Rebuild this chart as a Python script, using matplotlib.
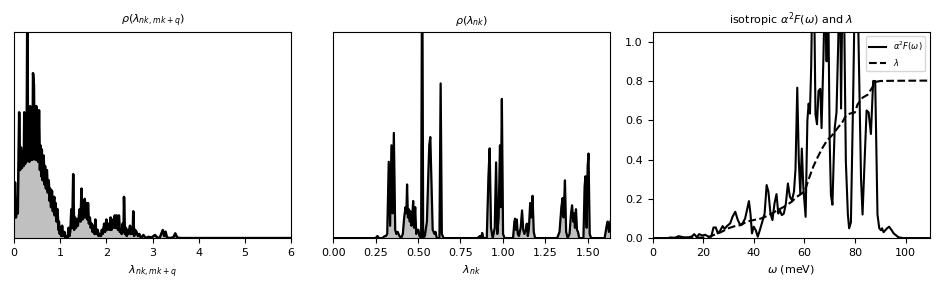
import matplotlib
matplotlib.use("Agg")
import matplotlib.pyplot as plt

# rho(lambda_{nk,mk+q}) -- anisotropic coupling distribution
lam_q = [0.00, 0.02, 0.04, 0.06, 0.08, 0.11, 0.13, 0.15, 0.17, 0.19, 0.21, 0.22, 0.24, 0.26, 0.27,
         0.29, 0.30, 0.32, 0.33, 0.35, 0.37, 0.39, 0.40, 0.41, 0.43, 0.44, 0.45, 0.46, 0.48, 0.50,
         0.51, 0.52, 0.54, 0.56, 0.57, 0.59, 0.60, 0.62, 0.64, 0.66, 0.67, 0.69, 0.71, 0.73, 0.75,
         0.77, 0.78, 0.80, 0.82, 0.84, 0.87, 0.88, 0.90, 0.92, 0.94, 0.96, 0.97, 0.99, 1.00, 1.02,
         1.04, 1.06, 1.09, 1.11, 1.13, 1.16, 1.18, 1.20, 1.22, 1.24, 1.26, 1.28, 1.30, 1.32, 1.34,
         1.36, 1.38, 1.40, 1.42, 1.44, 1.46, 1.48, 1.50, 1.52, 1.53, 1.55, 1.57, 1.59, 1.60, 1.62,
         1.64, 1.66, 1.68, 1.70, 1.72, 1.74, 1.76, 1.78, 1.81, 1.83, 1.85, 1.88, 1.90, 1.92, 1.95,
         1.97, 2.00, 2.02, 2.05, 2.07, 2.09, 2.11, 2.14, 2.16, 2.18, 2.20, 2.22, 2.25, 2.27, 2.29,
         2.31, 2.33, 2.35, 2.37, 2.38, 2.40, 2.42, 2.44, 2.46, 2.48, 2.51, 2.53, 2.55, 2.57, 2.58,
         2.60, 2.62, 2.65, 2.68, 2.71, 2.75, 2.80, 2.85, 2.91, 2.98, 3.05, 3.10, 3.15, 3.19, 3.22,
         3.25, 3.28, 3.31, 3.38, 3.45, 3.49, 3.53, 3.60, 6.00]
rho_q = [0.10, 0.27, 0.10, 0.16, 0.12, 0.61, 0.33, 0.44, 0.34, 0.42, 0.35, 0.61, 0.36, 0.48, 0.37,
         1.30, 0.38, 0.41, 0.37, 0.64, 0.38, 0.55, 0.38, 0.80, 0.74, 0.39, 0.48, 0.38, 0.64, 0.38,
         0.48, 0.37, 0.62, 0.33, 0.45, 0.30, 0.43, 0.28, 0.40, 0.26, 0.35, 0.24, 0.33, 0.22, 0.28,
         0.18, 0.24, 0.15, 0.23, 0.13, 0.20, 0.11, 0.17, 0.08, 0.14, 0.04, 0.08, 0.02, 0.05, 0.01,
         0.06, 0.01, 0.03, 0.00, 0.01, 0.00, 0.05, 0.01, 0.04, 0.14, 0.05, 0.31, 0.04, 0.10, 0.05,
         0.09, 0.06, 0.10, 0.14, 0.08, 0.24, 0.09, 0.15, 0.10, 0.19, 0.10, 0.17, 0.09, 0.17, 0.07,
         0.10, 0.05, 0.07, 0.03, 0.06, 0.02, 0.09, 0.02, 0.04, 0.01, 0.02, 0.01, 0.04, 0.02, 0.07,
         0.03, 0.09, 0.04, 0.07, 0.04, 0.10, 0.04, 0.09, 0.05, 0.11, 0.05, 0.11, 0.04, 0.11, 0.03,
         0.04, 0.02, 0.07, 0.03, 0.20, 0.02, 0.05, 0.01, 0.04, 0.02, 0.06, 0.02, 0.05, 0.02, 0.13,
         0.01, 0.04, 0.03, 0.01, 0.02, 0.00, 0.015, 0.00, 0.006, 0.003, 0.015, 0.003, 0.00, 0.023, 0.039,
         0.01, 0.031, 0.003, 0.00, 0.004, 0.023, 0.003, 0.00, 0.00]

# rho(lambda_nk)
lam_k = [0.000, 0.250, 0.260, 0.270, 0.290, 0.300, 0.310,
         0.318, 0.327, 0.335, 0.343, 0.350, 0.357, 0.365, 0.372, 0.380, 0.390, 0.400, 0.410,
         0.418, 0.426, 0.431, 0.435, 0.440, 0.446, 0.451, 0.455, 0.461, 0.466, 0.471, 0.476,
         0.483, 0.489, 0.495, 0.502, 0.508,
         0.518, 0.524, 0.530,
         0.540, 0.552, 0.560, 0.566, 0.572, 0.578, 0.586, 0.597, 0.603, 0.610,
         0.626, 0.633, 0.640, 0.650,
         0.850, 0.865, 0.872, 0.878, 0.885, 0.905,
         0.915, 0.922, 0.930, 0.940, 0.952, 0.960, 0.967, 0.975, 0.983, 0.988, 0.994, 1.001, 1.010,
         1.060, 1.068, 1.072, 1.077, 1.082, 1.088, 1.095, 1.105, 1.113, 1.120, 1.127, 1.135,
         1.141, 1.147, 1.153, 1.161, 1.167, 1.175, 1.182, 1.190,
         1.320, 1.334, 1.345, 1.352, 1.358, 1.366, 1.373, 1.382, 1.393, 1.402, 1.408, 1.415,
         1.420, 1.425, 1.431, 1.437, 1.443, 1.450,
         1.475, 1.482, 1.487, 1.494, 1.500, 1.505, 1.512, 1.520,
         1.600, 1.612, 1.618, 1.625, 1.634]
rho_k = [0.0, 0.0, 0.01, 0.0, 0.0, 0.008, 0.01,
         0.02, 0.37, 0.06, 0.45, 0.12, 0.51, 0.04, 0.02, 0.03, 0.01, 0.0, 0.02,
         0.10, 0.15, 0.12, 0.26, 0.10, 0.14, 0.08, 0.13, 0.06, 0.11, 0.18, 0.05,
         0.15, 0.02, 0.04, 0.04, 0.01,
         0.0, 1.5, 0.0,
         0.01, 0.08, 0.30, 0.45, 0.49, 0.30, 0.04, 0.02, 0.03, 0.0,
         0.0, 0.75, 0.02, 0.0,
         0.0, 0.01, 0.0, 0.025, 0.0, 0.0,
         0.30, 0.435, 0.05, 0.0, 0.05, 0.367, 0.02, 0.10, 0.45, 0.15, 0.675, 0.02, 0.0,
         0.0, 0.08, 0.094, 0.04, 0.09, 0.02, 0.01, 0.05, 0.134, 0.04, 0.02, 0.04,
         0.07, 0.01, 0.04, 0.17, 0.10, 0.205, 0.03, 0.0,
         0.0, 0.03, 0.15, 0.194, 0.10, 0.28, 0.03, 0.0, 0.02, 0.12, 0.159, 0.08,
         0.12, 0.05, 0.14, 0.04, 0.03, 0.0,
         0.0, 0.25, 0.30, 0.05, 0.35, 0.41, 0.02, 0.0,
         0.0, 0.06, 0.08, 0.03, 0.08]

# isotropic Eliashberg function and cumulative lambda
omega = [0, 6, 7, 9, 10.3, 12.3, 14.2, 15.5, 16.5, 17.5, 18.4, 19.8, 20.8, 22.1, 23.2, 24.1, 25,
         25.8, 26.7, 27.7, 28.5, 29.4, 30.7, 31.6, 32.7, 33.7, 34.7, 35.6, 36.6, 38.1, 38.7, 39.3,
         40, 40.8, 41.6, 42.4, 43.2, 44.3, 45.1, 45.8, 46.6, 47.4, 48.2, 49, 49.7, 50.3, 51.1,
         51.9, 52.7, 53.5, 54.3, 55.1, 55.9, 56.5, 57.2, 57.8, 58.4, 59.0, 59.6, 60.5, 61.2,
         61.7, 62.2, 62.7, 63.3, 63.9, 64.4, 65.0, 65.6, 66.3, 66.8, 67.5, 68.2, 68.8, 69.3,
         70.0, 70.5, 71.1, 71.6, 72.0, 72.7, 73.4, 74.0, 74.5, 75.0, 75.6, 76.4, 77.2, 77.7,
         78.4, 79.3, 80.1, 81.0, 82.4, 83.0, 83.8, 84.6, 85.4, 86.3, 87.2, 88.0, 88.9, 89.6,
         90.3, 90.7, 91.3, 92.7, 93.5, 94.5, 95.3, 97.2, 99, 109.5]
a2f = [0, 0, 0.003, 0.002, 0.01, 0.004, 0.004, 0.008, 0.02, 0.004, 0.02, 0.013, 0.017, 0.007,
       0.007, 0.054, 0.054, 0.024, 0.037, 0.061, 0.047, 0.061, 0.075, 0.108, 0.134, 0.092, 0.066,
       0.075, 0.1, 0.188, 0.125, 0.024, 0.058, 0.04, 0.007, 0.04, 0.075, 0.125, 0.27, 0.236,
       0.125, 0.092, 0.176, 0.224, 0.125, 0.142, 0.117, 0.125, 0.176, 0.278, 0.21, 0.193, 0.236,
       0.35, 0.766, 0.40, 0.227, 0.456, 0.26, 0.108, 0.60, 0.685, 0.634, 0.87, 1.4, 1.2, 0.63,
       0.58, 0.75, 0.76, 0.56, 0.9, 1.3, 0.9, 1.4, 0.5, 0.22, 0.17, 0.40, 0.56, 0.64, 1.0, 1.5,
       0.66, 1.2, 1.3, 0.39, 0.12, 0.05, 0.08, 0.73, 1.4, 1.3, 0.3, 0.12, 0.39, 0.65, 0.64, 0.53,
       0.80, 0.80, 0.12, 0.05, 0.04, 0.05, 0.03, 0.05, 0.058, 0.04, 0.024, 0.004, 0, 0]

omega_lam = [0, 15, 20, 22.5, 25, 27, 30, 33, 35, 37, 40, 43, 46, 49, 52, 55, 57, 59, 60.5, 62,
             63.5, 65, 67, 69, 71, 73, 75, 76.5, 78, 80, 81, 83, 85, 87, 88, 90, 95, 109.5]
lam_cum = [0, 0, 0.003, 0.007, 0.02, 0.03, 0.05, 0.063, 0.066, 0.083, 0.092, 0.1, 0.117, 0.139,
           0.16, 0.185, 0.21, 0.227, 0.253, 0.31, 0.363, 0.405, 0.456, 0.498, 0.524, 0.558, 0.59,
           0.625, 0.634, 0.64, 0.68, 0.715, 0.73, 0.77, 0.795, 0.80, 0.801, 0.802]

plt.rcParams['font.size'] = 8

fig, axs = plt.subplots(1, 3, figsize=(9.39, 2.9))
fig.subplots_adjust(left=0.015, right=0.99, bottom=0.179, top=0.89, wspace=0.152)

ax = axs[0]
ax.fill_between(lam_q, rho_q, color='silver')
ax.plot(lam_q, rho_q, color='k', lw=1.8)
ax.set_xlim(0, 6)
ax.set_ylim(0, 1)
ax.set_yticks([])
ax.set_xlabel(r'$\lambda_{nk,mk+q}$')
ax.set_title(r'$\rho(\lambda_{nk,mk+q})$', fontsize=8)

ax = axs[1]
ax.fill_between(lam_k, rho_k, color='silver')
ax.plot(lam_k, rho_k, color='k', lw=1.6)
ax.set_xlim(0, 1.634)
ax.set_ylim(0, 1)
ax.set_yticks([])
ax.set_xticks([0, 0.25, 0.5, 0.75, 1.0, 1.25, 1.5])
ax.set_xlabel(r'$\lambda_{nk}$')
ax.set_title(r'$\rho(\lambda_{nk})$', fontsize=8)

ax = axs[2]
ax.plot(omega, a2f, color='k', lw=1.5, label=r'$\alpha^2F(\omega)$')
ax.plot(omega_lam, lam_cum, color='k', lw=1.5, ls='--', label=r'$\lambda$')
ax.set_xlim(0, 109.5)
ax.set_ylim(0, 1.05)
ax.set_xlabel(r'$\omega$ (meV)')
ax.set_title(r'isotropic $\alpha^2F(\omega)$ and $\lambda$', fontsize=8)
ax.legend(loc='upper right', fontsize=6)

fig.savefig('out.png', dpi=100)
